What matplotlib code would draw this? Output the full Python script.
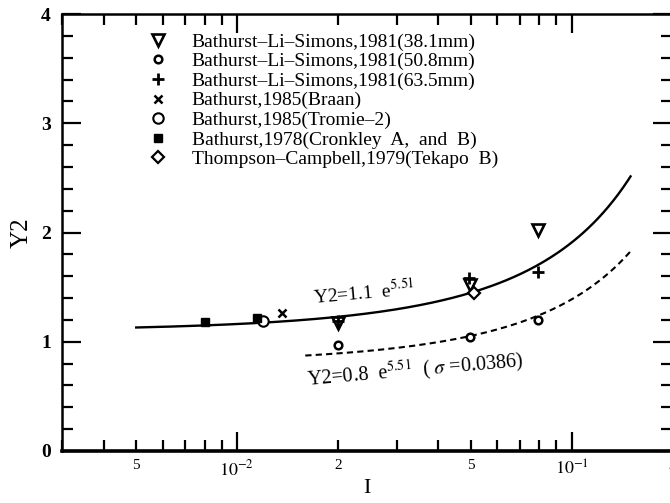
import numpy as np
import matplotlib.pyplot as plt
from matplotlib.ticker import FixedLocator, FixedFormatter, MultipleLocator

plt.rcParams['font.family'] = ['Liberation Serif', 'DejaVu Serif']
plt.rcParams['mathtext.fontset'] = 'stix'

# data
tri_x = [0.02, 0.0497, 0.0796]          # Bathurst-Li-Simons 38.1mm
tri_y = [1.17, 1.52, 2.02]
hex_x = [0.02, 0.0497, 0.0796]          # 50.8mm
hex_y = [0.97, 1.04, 1.20]
plus_x = [0.02, 0.0494, 0.0796]         # 63.5mm
plus_y = [1.19, 1.58, 1.64]
braan_x = [0.0136]
braan_y = [1.26]
tromie_x = [0.0120]
tromie_y = [1.19]
cronk_x = [0.0080, 0.0115]
cronk_y = [1.18, 1.22]
tekapo_x = [0.0511]
tekapo_y = [1.45]

# fitted curves shown on the chart: Y2 = a * exp(b * I)
a_upper = 1.1
a_lower = 0.8
b_exp = 5.51
upper_range = (0.005, 0.15)
lower_range = (0.016, 0.15)

labels = ['Bathurst\u2013Li\u2013Simons,1981(38.1mm)',
          'Bathurst\u2013Li\u2013Simons,1981(50.8mm)',
          'Bathurst\u2013Li\u2013Simons,1981(63.5mm)',
          'Bathurst,1985(Braan)',
          'Bathurst,1985(Tromie\u20132)',
          'Bathurst,1978(Cronkley  A,  and  B)',
          'Thompson\u2013Campbell,1979(Tekapo  B)']

fig = plt.figure(figsize=(6.7, 5.03), dpi=100)
ax = fig.add_axes([0.0925, 0.1034, 0.911, 0.8686])

I1 = np.logspace(np.log10(upper_range[0]), np.log10(upper_range[1]), 200)
I2 = np.logspace(np.log10(lower_range[0]), np.log10(lower_range[1]), 200)
ax.plot(I1, a_upper * np.exp(b_exp * I1), color='black', lw=1.7)
ax.plot(I2, a_lower * np.exp(b_exp * I2), color='black', lw=1.5, ls=(0, (3, 2)))

h1, = ax.plot(tri_x, tri_y, 'v', ms=8, mfc='white', mec='black', mew=1.9, ls='none')
h2, = ax.plot(hex_x, hex_y, 'o', ms=5.5, mfc='white', mec='black', mew=1.8, ls='none')
h3, = ax.plot(plus_x, plus_y, '+', ms=8, mec='black', mew=2, ls='none')
h4, = ax.plot(braan_x, braan_y, 'x', ms=5.5, mec='black', mew=1.8, ls='none')
h5, = ax.plot(tromie_x, tromie_y, 'o', ms=7.5, mfc='white', mec='black', mew=1.5, ls='none')
h6, = ax.plot(cronk_x, cronk_y, 's', ms=6, mfc='black', mec='black', ls='none')
h7, = ax.plot(tekapo_x, tekapo_y, 'D', ms=6, mfc='white', mec='black', mew=1.6, ls='none')

ax.legend([h1, h2, h3, h4, h5, h6, h7], labels, loc='upper left',
          bbox_to_anchor=(0.104, 0.997), frameon=False, fontsize=14,
          handletextpad=1.0, labelspacing=0.1, handlelength=1.5)

ax.text(0.0168, 1.34, r'Y2=1.1  e$^{5.51}$', fontsize=14, rotation=5,
        ha='left', va='baseline')
ax.text(0.0160, 0.60, r'Y2=0.8  e$^{5.51}$  ( $\sigma$ =0.0386)', fontsize=14.5,
        rotation=5, ha='left', va='baseline')

ax.set_xscale('log')
ax.set_xlim(0.003, 0.2)
ax.set_ylim(0, 4)

ax.xaxis.set_major_locator(FixedLocator([1e-2, 1e-1]))
ax.xaxis.set_major_formatter(FixedFormatter([r'$10^{-2}$', r'$10^{-1}$']))
minor = [3e-3, 4e-3, 5e-3, 6e-3, 7e-3, 8e-3, 9e-3,
         2e-2, 3e-2, 4e-2, 5e-2, 6e-2, 7e-2, 8e-2, 9e-2, 2e-1]
minor_lab = ['', '', '5', '', '', '', '',
             '2', '', '', '5', '', '', '', '', '2']
ax.xaxis.set_minor_locator(FixedLocator(minor))
ax.xaxis.set_minor_formatter(FixedFormatter(minor_lab))
ax.yaxis.set_major_locator(MultipleLocator(1))
ax.yaxis.set_minor_locator(MultipleLocator(0.2))

ax.tick_params(which='both', direction='in', top=True, right=True, width=1.6)
ax.tick_params(which='major', length=14, labelsize=13, pad=6)
ax.tick_params(which='minor', length=8, labelsize=11, pad=6)
ax.tick_params(axis='y', which='major', labelsize=14, pad=8)
for lab in ax.get_yticklabels():
    lab.set_fontweight('bold')
for s in ax.spines.values():
    s.set_linewidth(1.8)
ax.spines['bottom'].set_linewidth(2.6)

ax.set_xlabel('I', fontsize=16, labelpad=0)
ax.set_ylabel('Y2', fontsize=18, labelpad=6)

fig.savefig('out.png', dpi=100)
